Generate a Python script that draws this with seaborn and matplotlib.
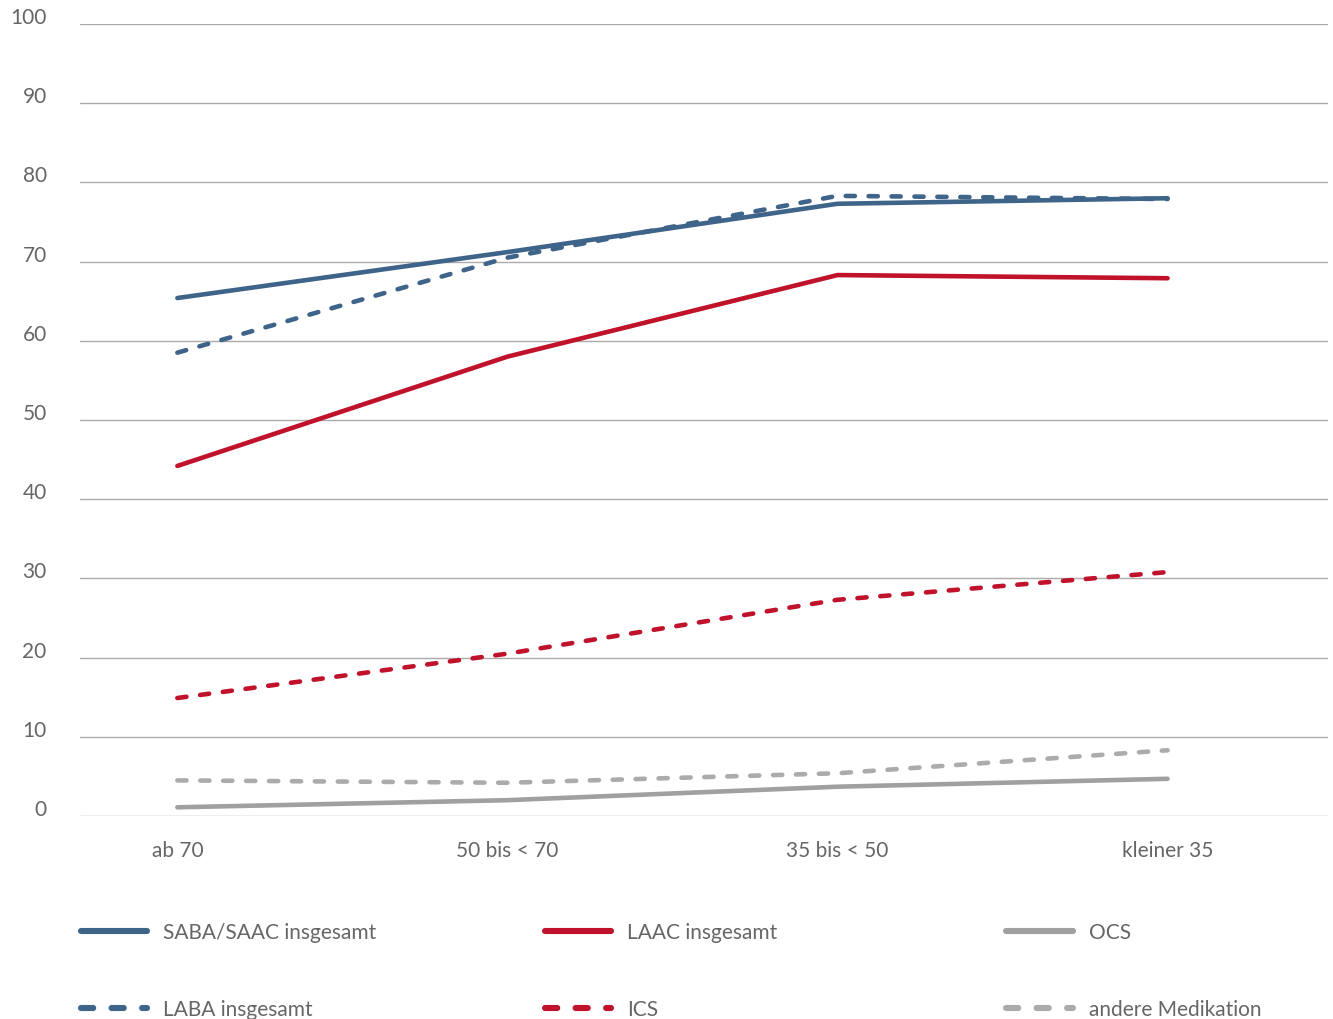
import matplotlib
matplotlib.use("Agg")
import matplotlib.pyplot as plt
import matplotlib.transforms as mtransforms
from matplotlib.lines import Line2D
import seaborn as sns
import pandas as pd

# Age groups (x categories)
age_groups = ["ab 70", "50 bis < 70", "35 bis < 50", "kleiner 35"]

# Share of patients (%) per medication and age group
saba_saac = [65.4, 71.2, 77.3, 78.0]
laba = [58.5, 70.5, 78.3, 77.9]
laac = [44.2, 58.0, 68.3, 67.9]
ics = [14.9, 20.5, 27.3, 30.8]
ocs = [1.1, 2.0, 3.7, 4.7]
andere = [4.5, 4.2, 5.4, 8.3]

series_names = ["SABA/SAAC insgesamt", "LABA insgesamt", "LAAC insgesamt",
                "ICS", "OCS", "andere Medikation"]
series_values = [saba_saac, laba, laac, ics, ocs, andere]

BLUE = "#3e6489"
RED = "#c0122b"
GREY = "#a0a0a0"
LGREY = "#ababab"
palette = {
    "SABA/SAAC insgesamt": BLUE, "LABA insgesamt": BLUE,
    "LAAC insgesamt": RED, "ICS": RED,
    "OCS": GREY, "andere Medikation": LGREY,
}
DASH = (2.0, 3.0)
dashes = {
    "SABA/SAAC insgesamt": "", "LABA insgesamt": DASH,
    "LAAC insgesamt": "", "ICS": DASH,
    "OCS": "", "andere Medikation": DASH,
}

rows = []
for name, vals in zip(series_names, series_values):
    for i, v in enumerate(vals):
        rows.append({"pos": i, "value": v, "series": name})
df = pd.DataFrame(rows)

sns.set_theme(style="white")
plt.rcParams["font.family"] = ["Lato", "DejaVu Sans"]

TEXT = "#666666"
LW = 3.3
FS = 15

fig = plt.figure(figsize=(13.33, 10.2), dpi=100)
ax = fig.add_axes([0.060, 0.199, 0.936, 0.7765])

# grid lines
for yv in range(0, 101, 10):
    ax.axhline(yv, color="#ababab", lw=1.0, zorder=0)

sns.lineplot(data=df, x="pos", y="value", hue="series", style="series",
             palette=palette, dashes=dashes, hue_order=series_names,
             style_order=series_names, linewidth=LW, legend=False,
             sort=False, ax=ax)
for ln in ax.get_lines():
    if ln.get_xydata().shape[0] == 4:
        ln.set_dash_capstyle("round")
        ln.set_solid_capstyle("round")
        ln.set_solid_joinstyle("round")
        ln.set_zorder(3)

ax.set_xlim(-0.295, 3.485)
ax.set_ylim(0, 100)
ax.set_yticks(range(0, 101, 10))
ax.set_xticks(range(len(age_groups)))
ax.set_xticklabels(age_groups)
ax.set_xlabel("")
ax.set_ylabel("")
for s in ax.spines.values():
    s.set_visible(False)
ax.tick_params(axis="y", length=0, pad=24, labelsize=FS, labelcolor=TEXT)
ax.tick_params(axis="x", length=0, pad=17, labelsize=FS, labelcolor=TEXT)
# y labels sit slightly above their gridlines
lift = mtransforms.ScaledTranslation(0, 5 / 72, fig.dpi_scale_trans)
for t in ax.get_yticklabels():
    t.set_verticalalignment("center")
    t.set_transform(t.get_transform() + lift)

# legend: three columns, two rows each
columns = [
    [("SABA/SAAC insgesamt", BLUE, "-"), ("LABA insgesamt", BLUE, (0, DASH))],
    [("LAAC insgesamt", RED, "-"), ("ICS", RED, (0, DASH))],
    [("OCS", GREY, "-"), ("andere Medikation", LGREY, (0, DASH))],
]
x_starts = [0.0605, 0.4085, 0.7550]
for x0, col in zip(x_starts, columns):
    handles = []
    labels = []
    for lab, c, ls in col:
        h = Line2D([], [], color=c, lw=4.4, linestyle=ls,
                   dash_capstyle="round", solid_capstyle="round")
        handles.append(h)
        labels.append(lab)
    fig.legend(handles, labels, loc="upper left",
               bbox_to_anchor=(x0, 0.095), frameon=False,
               fontsize=FS, labelcolor=TEXT, handlelength=3.2,
               handletextpad=0.75, labelspacing=2.75, borderpad=0,
               borderaxespad=0)

fig.savefig("out.png", dpi=100, facecolor="white")
